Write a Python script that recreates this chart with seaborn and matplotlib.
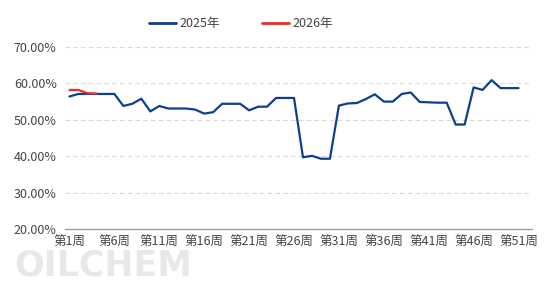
import matplotlib
matplotlib.use("Agg")
import matplotlib.pyplot as plt
import seaborn as sns
import pandas as pd
from matplotlib.ticker import FuncFormatter
from matplotlib.lines import Line2D

weeks = list(range(1, 53))
week_labels = [f"第{w}周" for w in weeks]
tick_weeks = [1, 6, 11, 16, 21, 26, 31, 36, 41, 46, 51]

rate_2025 = [56.4, 57.1, 57.1, 57.1, 57.1, 57.1, 53.8, 54.4, 55.8, 52.3,
             53.8, 53.1, 53.1, 53.1, 52.8, 51.7, 52.1, 54.4, 54.4, 54.4,
             52.6, 53.6, 53.6, 56.0, 56.0, 56.0, 39.7, 40.1, 39.3, 39.3,
             53.9, 54.5, 54.6, 55.7, 57.0, 55.0, 55.0, 57.1, 57.5, 54.9,
             54.8, 54.7, 54.7, 48.7, 48.7, 58.9, 58.2, 60.9, 58.7, 58.7,
             58.7]
rate_2026 = [58.2, 58.2, 57.3, 57.2]

series_names = ["2025年", "2026年"]
colors = ["#0d3f8f", "#e0322a"]

df = pd.concat([
    pd.DataFrame({"week": weeks[:len(rate_2025)], "rate": rate_2025, "series": series_names[0]}),
    pd.DataFrame({"week": weeks[:len(rate_2026)], "rate": rate_2026, "series": series_names[1]}),
])

sns.set_theme(style="white")
plt.rcParams["font.family"] = ["Noto Sans CJK SC", "DejaVu Sans"]

fig = plt.figure(figsize=(5.54, 2.89), dpi=100)

# Watermark (behind everything)
fig.text(0.025, 0.08, "OILCHEM", fontsize=25, color="#e8e8e8", fontweight="bold",
         family="DejaVu Sans", ha="left", va="center", zorder=0)

ax = fig.add_axes([0.1173, 0.2076, 0.9603 - 0.1173, 0.8374 - 0.2076])
ax.patch.set_alpha(0)

sns.lineplot(data=df, x="week", y="rate", hue="series", palette=colors,
             hue_order=series_names, linewidth=1.6, ax=ax, legend=False)

ax.set_xlim(0.5, 52.5)
ax.set_ylim(20, 70)
ax.set_yticks([20, 30, 40, 50, 60, 70])
ax.yaxis.set_major_formatter(FuncFormatter(lambda v, p: f"{v:.2f}%"))
ax.set_xticks(tick_weeks)
ax.set_xticklabels([week_labels[w - 1] for w in tick_weeks])
ax.set_xlabel("")
ax.set_ylabel("")

ax.grid(axis="y", color="#d9d9d9", linestyle=(0, (4, 3)), linewidth=0.8)
ax.grid(axis="x", visible=False)
for s in ["top", "right", "left"]:
    ax.spines[s].set_visible(False)
ax.spines["bottom"].set_color("#9e9e9e")
ax.spines["bottom"].set_linewidth(1.0)
ax.tick_params(axis="both", length=0, labelsize=9, colors="#444444")
ax.tick_params(axis="y", pad=6)
ax.tick_params(axis="x", pad=5)
ax.set_axisbelow(True)

# Legend
handles = [Line2D([], [], color=c, linewidth=2) for c in colors]
fig.legend(handles, series_names, loc="center", bbox_to_anchor=(0.435, 0.917),
           ncol=2, frameon=False, fontsize=9, handlelength=2.2,
           handletextpad=0.3, columnspacing=3.3, labelcolor="#444444")

fig.savefig("out.png", dpi=100)
